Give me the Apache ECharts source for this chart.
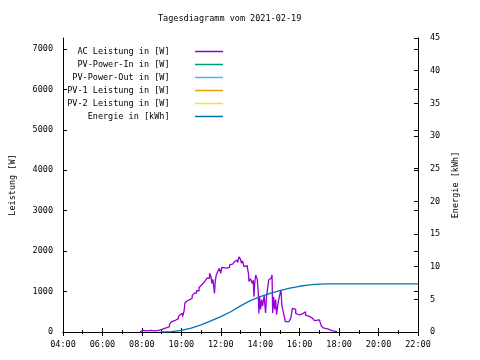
<!DOCTYPE html>
<html><head><meta charset="utf-8">
<script src="https://cdn.jsdelivr.net/npm/echarts@6/dist/echarts.min.js"></script>
<style>html,body{margin:0;padding:0;background:#fff}#c{width:480px;height:360px}</style>
</head><body><div id="c"></div>
<script>
const seriesNames = ['AC Leistung in [W]','PV-Power-In in [W]','PV-Power-Out in [W]','PV-1 Leistung in [W]','PV-2 Leistung in [W]','Energie in [kWh]'];
const seriesColors = ['#9400D3','#009E73','#56B4E9','#E69F00','#F0E442','#0072B2'];
const powerTimes = [7.90,7.95,8.05,8.15,8.25,8.35,8.45,8.55,8.65,8.75,8.85,8.95,9.05,9.15,9.27,9.40,9.50,9.60,9.70,9.85,9.95,10.02,10.06,10.10,10.14,10.18,10.27,10.35,10.43,10.55,10.65,10.77,10.90,11.00,11.10,11.20,11.30,11.43,11.50,11.55,11.60,11.65,11.68,11.72,11.77,11.85,11.93,12.00,12.05,12.15,12.27,12.35,12.45,12.50,12.60,12.70,12.77,12.85,12.93,13.00,13.05,13.10,13.18,13.25,13.35,13.40,13.43,13.50,13.60,13.65,13.68,13.72,13.77,13.85,13.90,13.93,13.97,14.02,14.07,14.12,14.20,14.27,14.32,14.38,14.43,14.50,14.55,14.60,14.63,14.68,14.73,14.78,14.83,14.90,14.98,15.05,15.10,15.17,15.22,15.27,15.35,15.45,15.55,15.63,15.70,15.80,15.90,16.00,16.10,16.18,16.30,16.40,16.52,16.65,16.75,16.85,17.00,17.10,17.20,17.30,17.45,17.60,17.75,17.90];
const powerValues = [0,40,50,30,60,40,50,30,60,40,50,70,90,110,130,190,255,290,330,380,430,460,380,420,520,710,760,800,835,900,960,1020,1100,1150,1200,1260,1330,1450,1380,1200,1300,1100,955,1250,1410,1500,1575,1450,1600,1580,1615,1600,1660,1680,1700,1740,1780,1720,1860,1800,1700,1760,1615,1640,1580,1460,1250,1320,1200,1280,870,1200,1410,1300,1000,460,870,560,800,640,900,470,870,1100,1285,1330,1350,1410,470,870,560,800,430,700,900,1040,650,500,380,255,255,270,340,585,560,460,420,380,460,500,420,380,340,300,280,300,260,150,100,70,40,20,10,0];
const energyTimes = [8.95,9.5,10.0,10.5,11.0,11.5,12.0,12.5,13.0,13.5,14.0,14.5,15.0,15.5,16.0,16.5,17.0,17.5,18.0,22.0];
const energyValues = [0,0.05,0.25,0.6,1.1,1.7,2.35,3.1,4.0,4.8,5.4,5.9,6.35,6.7,7.0,7.2,7.32,7.36,7.36,7.36];

const F = 'DejaVu Sans Mono';
const fs = 8.5;
const pad = v => (v < 10 ? '0' : '') + v + ':00';
const chart = echarts.init(document.getElementById('c'));
const zip = (a,b) => a.map((t,i)=>[t,b[i]]);
const series = seriesNames.map((n,i)=>({
  name:n, type:'line', showSymbol:false, symbol:'none', animation:false,
  step: i===0 ? 'end' : false,
  yAxisIndex: i===5 ? 1 : 0,
  data: i===0 ? zip(powerTimes,powerValues) : (i===5 ? zip(energyTimes,energyValues) : []),
  lineStyle:{width:1.3,color:seriesColors[i]}, itemStyle:{color:seriesColors[i]}
}));
const axLine = {show:true,lineStyle:{color:'#000',width:1}};
chart.setOption({
  animation:false,
  title:{text:'Tagesdiagramm vom 2021-02-19',left:153,top:9,textStyle:{fontFamily:F,fontSize:fs,fontWeight:'normal',color:'#000'}},
  grid:{left:58,right:62,top:38,bottom:28},
  legend:{orient:'vertical',left:56,top:40,itemGap:0,itemWidth:28,itemHeight:1.5,icon:'rect',
    formatter:n=>n+'    ',
    textStyle:{fontFamily:F,fontSize:fs,color:'#000',width:129,align:'right',lineHeight:13},
    align:'right',data:seriesNames},
  xAxis:[
    {type:'value',min:4,max:22,interval:2,axisLine:axLine,
     axisTick:{inside:true,length:4,lineStyle:{color:'#000'}},
     minorTick:{show:true,splitNumber:2,length:2,lineStyle:{color:'#000'}},
     splitLine:{show:false},
     axisLabel:{formatter:pad,fontFamily:F,fontSize:fs,color:'#000',margin:8}},
    {type:'value',position:'top',min:4,max:22,interval:2,axisLine:axLine,
     axisTick:{inside:true,length:4,lineStyle:{color:'#000'}},
     minorTick:{show:true,splitNumber:2,length:2,lineStyle:{color:'#000'}},
     splitLine:{show:false},axisLabel:{show:false}}
  ],
  yAxis:[
    {type:'value',min:0,max:7272,interval:1000,axisLine:axLine,
     name:'Leistung [W]',nameLocation:'middle',nameRotate:90,nameGap:46,
     nameTextStyle:{fontFamily:F,fontSize:fs,color:'#000'},
     axisTick:{inside:true,length:4,lineStyle:{color:'#000'}},splitLine:{show:false},
     axisLabel:{showMaxLabel:false,formatter:v=>String(v),fontFamily:F,fontSize:fs,color:'#000',margin:10}},
    {type:'value',position:'right',min:0,max:45,interval:5,axisLine:axLine,
     name:'Energie [kWh]',nameLocation:'middle',nameRotate:90,nameGap:32,
     nameTextStyle:{fontFamily:F,fontSize:fs,color:'#000'},
     axisTick:{inside:true,length:4,lineStyle:{color:'#000'}},splitLine:{show:false},
     axisLabel:{formatter:v=>String(v),fontFamily:F,fontSize:fs,color:'#000',margin:12}},
    {type:'value',position:'right',min:0,max:7272,interval:1000,axisLine:axLine,
     axisTick:{inside:true,length:4,lineStyle:{color:'#000'}},splitLine:{show:false},
     axisLabel:{show:false}}
  ],
  series
});
</script></body></html>
